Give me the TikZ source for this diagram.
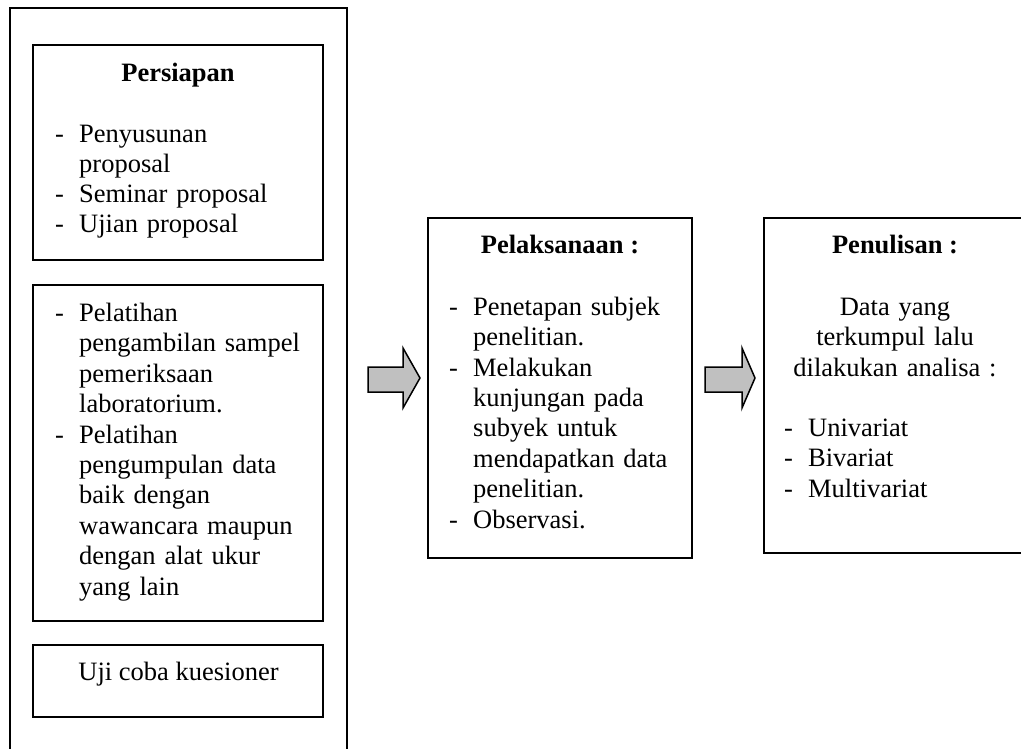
\documentclass[tikz,border=0pt]{standalone}
\usepackage{fontspec}
\setmainfont{Liberation Serif}
\newcommand{\dsh}{\makebox[24pt][l]{-}}
\newcommand{\ind}{\hspace*{24pt}}
\tikzset{
  lbox/.style={draw, line width=1.4pt, rectangle, inner sep=0pt},
  rbox/.style={draw, line width=1.8pt, rectangle, inner sep=0pt},
  txt/.style={inner sep=0pt, font=\fontsize{26.5}{30.5}\selectfont},
  lst/.style={txt, anchor=base west, align=left, text width=#1},
  ttl/.style={txt, anchor=base, font=\fontsize{26.5}{30.5}\selectfont\bfseries},
  blockarrow/.style={draw, line width=1.5pt, fill={rgb,255:red,192;green,192;blue,192}, line join=miter}
}
\begin{document}
\begin{tikzpicture}[x=1pt,y=-1pt]
\useasboundingbox (0,0) rectangle (1021,749);
\clip (0,0) rectangle (1021,749);
% boxes
\node[lbox, minimum width=337pt, minimum height=762pt] (outer) at (178.5,389) {};
\node[lbox, minimum width=290pt, minimum height=215pt] (persiapan) at (178,152.5) {};
\node[lbox, minimum width=290pt, minimum height=336pt] (pelatihan) at (178,453) {};
\node[lbox, minimum width=290pt, minimum height=72pt] (uji) at (178,681) {};
\node[rbox, minimum width=264pt, minimum height=340pt] (pelaksanaan) at (560,388) {};
\node[rbox, minimum width=264pt, minimum height=335pt] (penulisan) at (896,385.5) {};
% texts
\node[ttl] (t1) at (178,82) {Persiapan};
\node[lst=265pt, font=\fontsize{26.5}{30}\selectfont] (l1) at (55,143) {\dsh Penyusunan\\ \ind proposal\\ \dsh Seminar proposal\\ \dsh Ujian proposal};
\node[lst=265pt] (l2) at (55,321) {\dsh Pelatihan\\ \ind pengambilan sampel\\ \ind pemeriksaan\\ \ind laboratorium.\\ \dsh Pelatihan\\ \ind pengumpulan data\\ \ind baik dengan\\ \ind wawancara maupun\\ \ind dengan alat ukur\\ \ind yang lain};
\node[txt, anchor=base] (l3) at (178.5,680) {Uji coba kuesioner};
\node[ttl] (t2) at (560,253) {Pelaksanaan :};
\node[lst=240pt] (l4) at (449,315) {\dsh Penetapan subjek\\ \ind penelitian.\\ \dsh Melakukan\\ \ind kunjungan pada\\ \ind subyek untuk\\ \ind mendapatkan data\\ \ind penelitian.\\ \dsh Observasi.};
\node[ttl] (t3) at (895,253) {Penulisan :};
\node[txt, anchor=base, align=center, text width=240pt] (l5) at (895,315) {Data yang\\ terkumpul lalu\\ dilakukan analisa :};
\node[lst=220pt] (l6) at (784,436) {\dsh Univariat\\ \dsh Bivariat\\ \dsh Multivariat};
% block arrows
\draw[blockarrow] (368,367) -- (403,367) -- (403,348) -- (420,378) -- (403,408) -- (403,392) -- (368,392) -- cycle;
\draw[blockarrow] (705,367) -- (742,367) -- (742,348) -- (755,378) -- (742,408) -- (742,392) -- (705,392) -- cycle;
\end{tikzpicture}
\end{document}
